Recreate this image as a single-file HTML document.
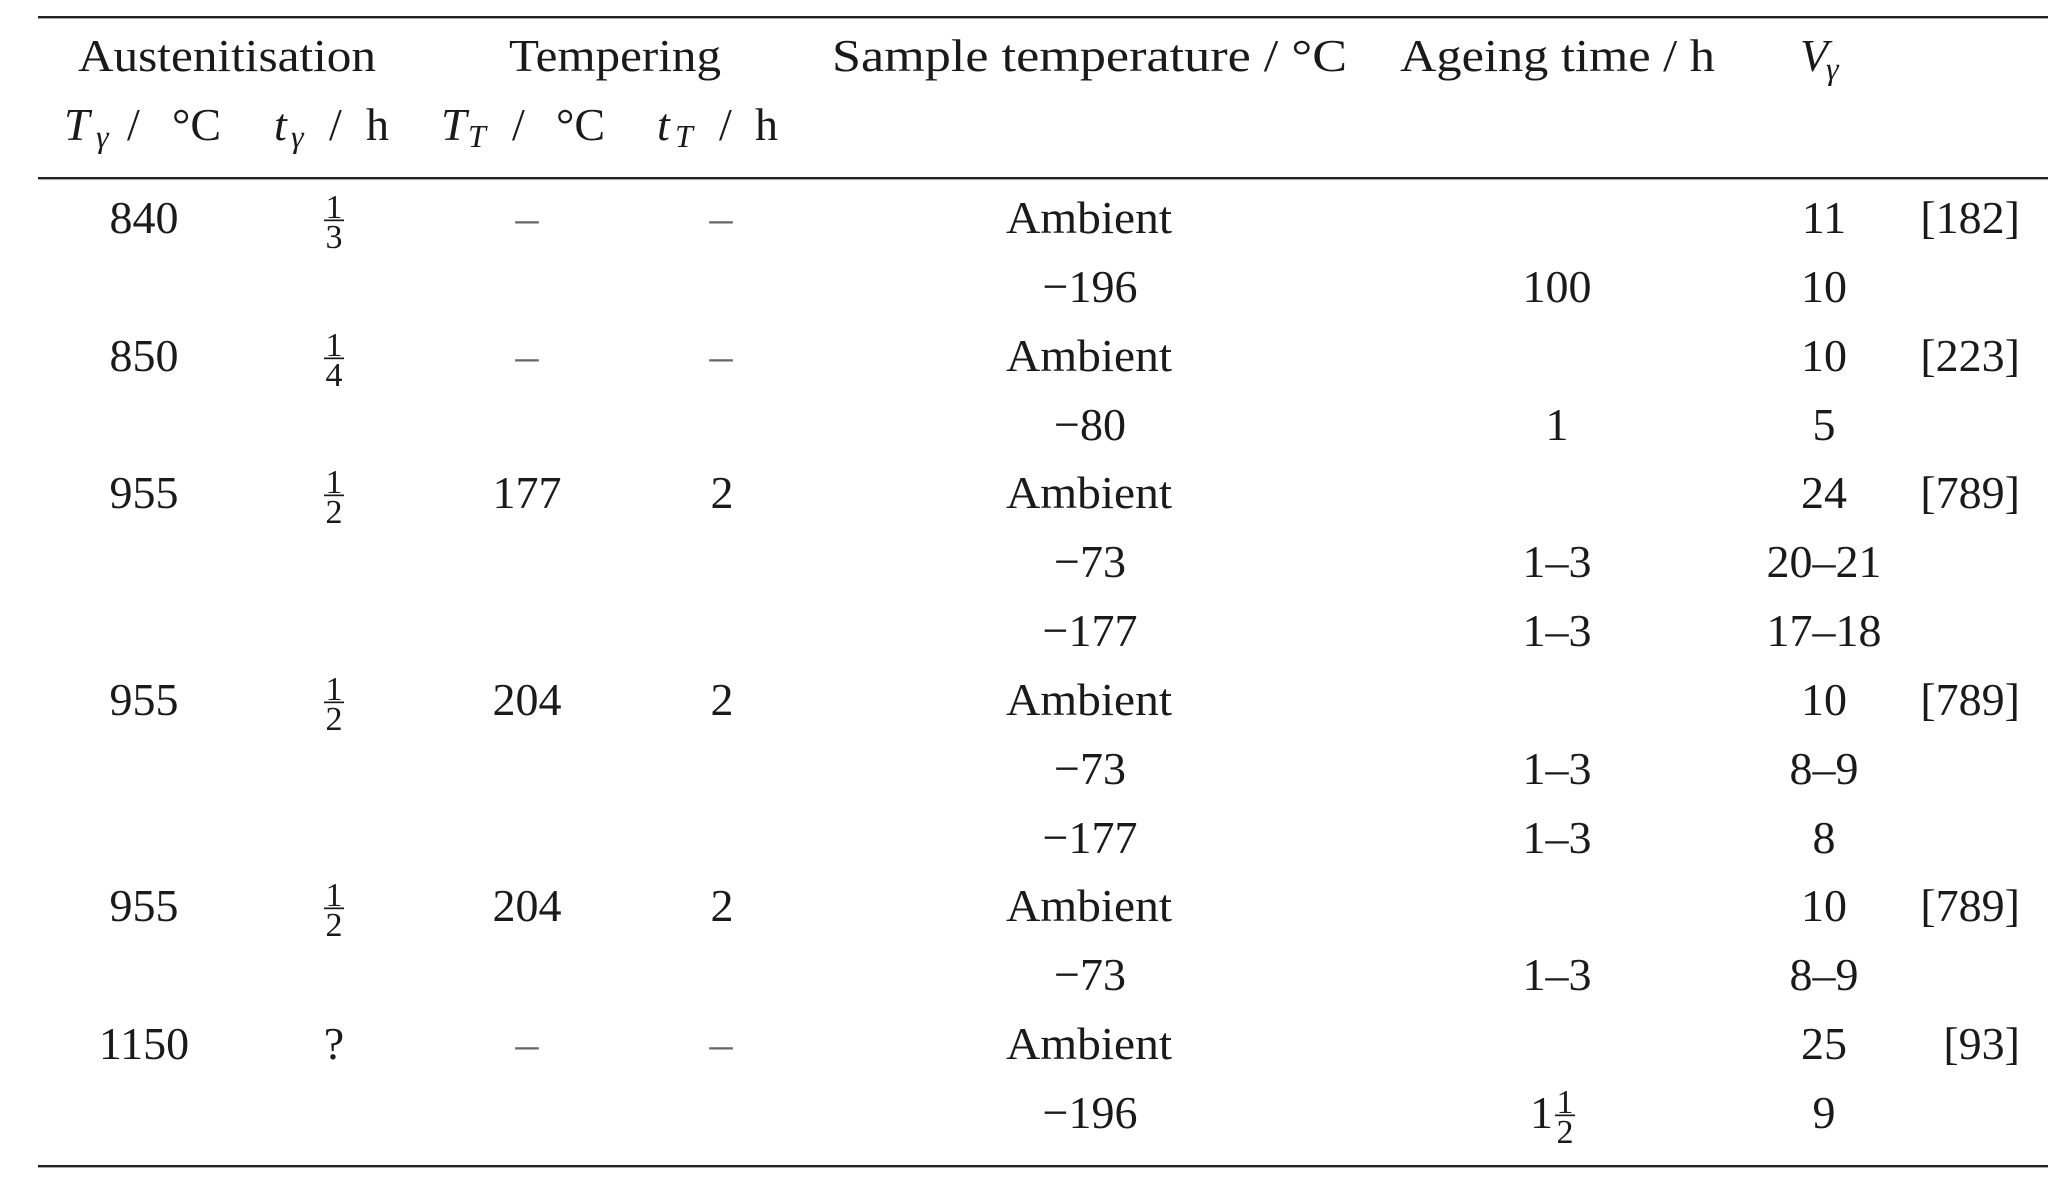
<!DOCTYPE html>
<html>
<head>
<meta charset="utf-8">
<style>
  html, body { margin: 0; padding: 0; background: #ffffff; }
  svg { display: block; }
  text { font-family: "Liberation Serif", "DejaVu Serif", serif; fill: #1a1a1a; }
  .n { font-size: 46px; }
  .i { font-size: 46px; font-style: italic; }
  .s { font-size: 32px; font-style: italic; }
  .f { font-size: 34px; }
  .d { font-size: 46px; fill: #666; }
</style>
</head>
<body>
<svg width="2071" height="1196" viewBox="0 0 2071 1196" xmlns="http://www.w3.org/2000/svg">
  <!-- rules -->
  <rect x="38" y="16" width="2010" height="2.4" fill="#222"/>
  <rect x="38" y="177" width="2010" height="2.4" fill="#222"/>
  <rect x="38" y="1165" width="2010" height="2.4" fill="#222"/>

  <!-- header row 1 -->
  <text class="n" x="78" y="71" textLength="298" lengthAdjust="spacingAndGlyphs">Austenitisation</text>
  <text class="n" x="509" y="71" textLength="212" lengthAdjust="spacingAndGlyphs">Tempering</text>
  <text class="n" x="832" y="71" textLength="515" lengthAdjust="spacingAndGlyphs">Sample temperature /  °C</text>
  <text class="n" x="1400" y="71" textLength="315" lengthAdjust="spacingAndGlyphs">Ageing time / h</text>
  <text class="i" x="1800" y="71">V</text>
  <text class="s" x="1826" y="79">γ</text>

  <!-- header row 2 -->
  <text class="i" x="64" y="140">T</text>
  <text class="s" x="96" y="147">γ</text>
  <text class="n" x="127" y="140">/</text>
  <text class="n" x="172" y="140">°C</text>

  <text class="i" x="274" y="140">t</text>
  <text class="s" x="291" y="147">γ</text>
  <text class="n" x="329" y="140">/</text>
  <text class="n" x="366" y="140">h</text>

  <text class="i" x="441" y="140">T</text>
  <text class="s" x="468" y="147">T</text>
  <text class="n" x="512" y="140">/</text>
  <text class="n" x="556" y="140">°C</text>

  <text class="i" x="657" y="140">t</text>
  <text class="s" x="675" y="147">T</text>
  <text class="n" x="719" y="140">/</text>
  <text class="n" x="755" y="140">h</text>

  <!-- column 1 -->
  <g text-anchor="middle">
    <text class="n" x="144" y="233">840</text>
    <text class="n" x="144" y="371">850</text>
    <text class="n" x="144" y="508">955</text>
    <text class="n" x="144" y="715">955</text>
    <text class="n" x="144" y="921">955</text>
    <text class="n" x="144" y="1059">1150</text>
  </g>

  <!-- column 2: fractions -->
  <g text-anchor="middle">
    <text class="f" x="334" y="218">1</text>
    <rect x="324" y="219.5" width="20" height="1.7" fill="#1a1a1a"/>
    <text class="f" x="334" y="248">3</text>

    <text class="f" x="334" y="356">1</text>
    <rect x="324" y="357.5" width="20" height="1.7" fill="#1a1a1a"/>
    <text class="f" x="334" y="386">4</text>

    <text class="f" x="334" y="493">1</text>
    <rect x="324" y="494.5" width="20" height="1.7" fill="#1a1a1a"/>
    <text class="f" x="334" y="523">2</text>

    <text class="f" x="334" y="700">1</text>
    <rect x="324" y="701.5" width="20" height="1.7" fill="#1a1a1a"/>
    <text class="f" x="334" y="730">2</text>

    <text class="f" x="334" y="906">1</text>
    <rect x="324" y="907.5" width="20" height="1.7" fill="#1a1a1a"/>
    <text class="f" x="334" y="936">2</text>

    <text class="n" x="334" y="1059">?</text>
  </g>

  <!-- column 3 & 4 -->
  <g text-anchor="middle">
    <text class="d" x="527" y="233">–</text>
    <text class="d" x="721" y="233">–</text>
    <text class="d" x="527" y="371">–</text>
    <text class="d" x="721" y="371">–</text>
    <text class="n" x="527" y="508">177</text>
    <text class="n" x="722" y="508">2</text>
    <text class="n" x="527" y="715">204</text>
    <text class="n" x="722" y="715">2</text>
    <text class="n" x="527" y="921">204</text>
    <text class="n" x="722" y="921">2</text>
    <text class="d" x="527" y="1059">–</text>
    <text class="d" x="721" y="1059">–</text>
  </g>

  <!-- column 5: sample temperature -->
  <g text-anchor="middle">
    <text class="n" x="1089" y="233" textLength="166" lengthAdjust="spacingAndGlyphs">Ambient</text>
    <text class="n" x="1090" y="302">−196</text>
    <text class="n" x="1089" y="371" textLength="166" lengthAdjust="spacingAndGlyphs">Ambient</text>
    <text class="n" x="1090" y="440">−80</text>
    <text class="n" x="1089" y="508" textLength="166" lengthAdjust="spacingAndGlyphs">Ambient</text>
    <text class="n" x="1090" y="577">−73</text>
    <text class="n" x="1090" y="646">−177</text>
    <text class="n" x="1089" y="715" textLength="166" lengthAdjust="spacingAndGlyphs">Ambient</text>
    <text class="n" x="1090" y="784">−73</text>
    <text class="n" x="1090" y="853">−177</text>
    <text class="n" x="1089" y="921" textLength="166" lengthAdjust="spacingAndGlyphs">Ambient</text>
    <text class="n" x="1090" y="990">−73</text>
    <text class="n" x="1089" y="1059" textLength="166" lengthAdjust="spacingAndGlyphs">Ambient</text>
    <text class="n" x="1090" y="1128">−196</text>
  </g>

  <!-- column 6: ageing time -->
  <g text-anchor="middle">
    <text class="n" x="1557" y="302">100</text>
    <text class="n" x="1557" y="440">1</text>
    <text class="n" x="1557" y="577">1–3</text>
    <text class="n" x="1557" y="646">1–3</text>
    <text class="n" x="1557" y="784">1–3</text>
    <text class="n" x="1557" y="853">1–3</text>
    <text class="n" x="1557" y="990">1–3</text>
  </g>
  <text class="n" x="1530" y="1128">1</text>
  <g text-anchor="middle">
    <text class="f" x="1565" y="1113">1</text>
    <rect x="1555" y="1114.5" width="20" height="1.7" fill="#1a1a1a"/>
    <text class="f" x="1565" y="1143">2</text>
  </g>

  <!-- column 7: V gamma -->
  <g text-anchor="middle">
    <text class="n" x="1824" y="233">11</text>
    <text class="n" x="1824" y="302">10</text>
    <text class="n" x="1824" y="371">10</text>
    <text class="n" x="1824" y="440">5</text>
    <text class="n" x="1824" y="508">24</text>
    <text class="n" x="1824" y="577">20–21</text>
    <text class="n" x="1824" y="646">17–18</text>
    <text class="n" x="1824" y="715">10</text>
    <text class="n" x="1824" y="784">8–9</text>
    <text class="n" x="1824" y="853">8</text>
    <text class="n" x="1824" y="921">10</text>
    <text class="n" x="1824" y="990">8–9</text>
    <text class="n" x="1824" y="1059">25</text>
    <text class="n" x="1824" y="1128">9</text>
  </g>

  <!-- column 8: references -->
  <g text-anchor="end">
    <text class="n" x="2020" y="233">[182]</text>
    <text class="n" x="2020" y="371">[223]</text>
    <text class="n" x="2020" y="508">[789]</text>
    <text class="n" x="2020" y="715">[789]</text>
    <text class="n" x="2020" y="921">[789]</text>
    <text class="n" x="2020" y="1059">[93]</text>
  </g>
</svg>
</body>
</html>
